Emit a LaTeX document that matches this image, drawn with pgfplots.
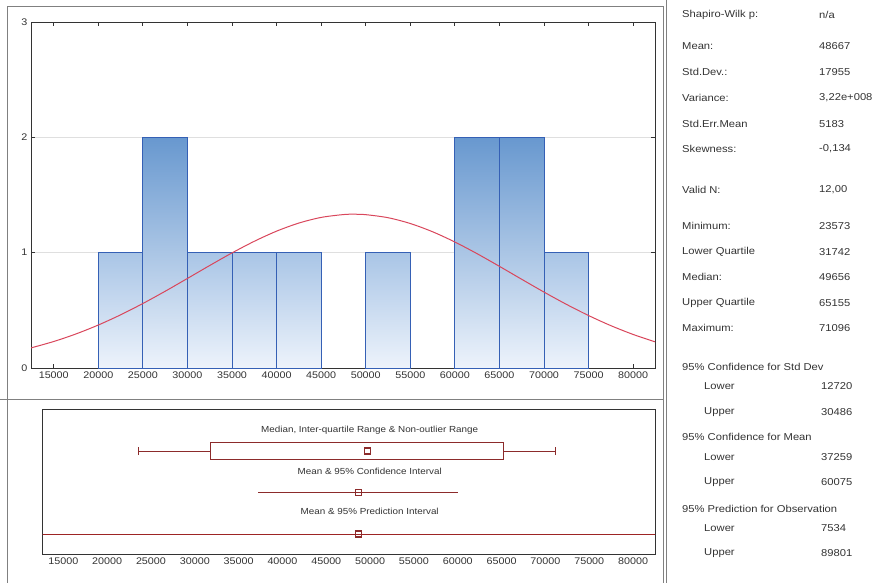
\documentclass[border=0pt]{standalone}
\usepackage{pgfplots}
\pgfplotsset{compat=1.18}
\usepackage{fontspec}
\setmainfont{Liberation Sans}[FakeStretch=1.12]
\definecolor{txt}{HTML}{333333}
\definecolor{frame}{HTML}{808080}
\definecolor{barline}{HTML}{3560B5}
\definecolor{bartop}{HTML}{6898CF}
\definecolor{barmid}{HTML}{A9C5E6}
\definecolor{barbot}{HTML}{EDF3FB}
\definecolor{curve}{HTML}{D9475C}
\definecolor{boxred}{HTML}{8C2B2B}
\begin{document}
\begin{tikzpicture}[font=\fontsize{10}{12}\selectfont, text=txt]
\useasboundingbox (0pt,0pt) rectangle (874pt,582pt);
% frames
\draw[frame, line width=1pt] (7pt,575pt) -- (663pt,575pt) -- (663pt,-5pt);
\draw[frame, line width=1pt] (7pt,575pt) -- (7pt,-5pt);
\draw[frame, line width=1pt] (0pt,183pt) -- (663pt,183pt);
\draw[frame, line width=1pt] (666.5pt,590pt) -- (666.5pt,-5pt);

% histogram
\begin{axis}[at={(31pt,214pt)}, anchor=south west, scale only axis,
  width=624pt, height=346pt,
  xmin=12450, xmax=82450, ymin=0, ymax=3,
  xtick={15000,20000,...,80000}, ytick={0,1,2,3},
  scaled ticks=false,
  tick align=inside, major tick length=4pt,
  ymajorgrids, grid style={gray!25, line width=0.6pt},
  axis line style={black!80, line width=0.9pt},
  tick style={black!80, line width=0.8pt},
  ticklabel style={font=\fontsize{9.6}{10}\selectfont, text=txt},
  /pgf/number format/assume math mode=true,
  /pgf/number format/1000 sep={},
  clip=true]
\addplot[ybar, bar width=5000, bar shift=0pt, draw=barline, line width=0.9pt,
  top color=barmid, bottom color=barbot]
  coordinates {(22500,1) (32500,1) (37500,1) (42500,1) (52500,1) (72500,1)};
\addplot[ybar, bar width=5000, bar shift=0pt, draw=barline, line width=0.9pt,
  top color=bartop, bottom color=barbot]
  coordinates {(27500,2) (62500,2) (67500,2)};
\addplot[smooth, curve, line width=1pt] coordinates {
(12000,0.1657) (12500,0.1753) (15000,0.2298) (17500,0.2955) (20000,0.3727)
(22500,0.4610) (25000,0.5593) (27500,0.6654) (30000,0.7766) (32500,0.8889)
(35000,0.9979) (37500,1.0987) (40000,1.1866) (42500,1.2568) (45000,1.3057)
(47500,1.3304) (48667,1.3332) (50000,1.3295) (52500,1.3032) (55000,1.2528)
(57500,1.1813) (60000,1.0924) (62500,0.9909) (65000,0.8815) (67500,0.7691)
(70000,0.6582) (72500,0.5525) (75000,0.4548) (77500,0.3672) (80000,0.2908)
(82500,0.2259) (83000,0.2143)};
\end{axis}

% box plot panel
\begin{axis}[at={(42.7pt,28pt)}, anchor=south west, scale only axis,
  width=612.3pt, height=145pt,
  xmin=12650, xmax=82500, ymin=0, ymax=145,
  xtick={15000,20000,...,80000}, ytick=\empty,
  scaled ticks=false,
  major tick length=0pt,
  axis line style={black!80, line width=0.9pt},
  ticklabel style={font=\fontsize{9.6}{10}\selectfont, text=txt},
  /pgf/number format/assume math mode=true,
  /pgf/number format/1000 sep={},
  clip=true]
% whiskers
\addplot[boxred, line width=0.9pt] coordinates {(23573,103) (31742,103)};
\addplot[boxred, line width=0.9pt] coordinates {(65155,103) (71096,103)};
\addplot[boxred, line width=0.9pt] coordinates {(23573,99) (23573,107)};
\addplot[boxred, line width=0.9pt] coordinates {(71096,99) (71096,107)};
% box
\addplot[boxred, line width=0.9pt, fill=white] coordinates {(31742,94.7) (65155,94.7) (65155,111.3) (31742,111.3) (31742,94.7)};
\addplot[only marks, mark=square, mark size=3pt, mark options={boxred, line width=1.1pt, fill=white}] coordinates {(49656,103)};
% mean & CI
\addplot[boxred, line width=0.9pt] coordinates {(37259,61.3) (60075,61.3)};
\addplot[only marks, mark=square, mark size=3pt, mark options={boxred, line width=1.1pt, fill=white}] coordinates {(48667,61.3)};
% mean & PI
\addplot[boxred!85!red, line width=0.9pt] coordinates {(7534,20) (89801,20)};
\addplot[only marks, mark=square, mark size=3pt, mark options={boxred, line width=1.1pt, fill=white}] coordinates {(48667,20)};
\node[font=\fontsize{8.8}{10}\selectfont, text=txt] at (axis cs:49950,124) {Median, Inter-quartile Range \& Non-outlier Range};
\node[font=\fontsize{8.8}{10}\selectfont, text=txt] at (axis cs:49950,82.3) {Mean \& 95\% Confidence Interval};
\node[font=\fontsize{8.8}{10}\selectfont, text=txt] at (axis cs:49950,42.3) {Mean \& 95\% Prediction Interval};
\end{axis}

% statistics panel
\begin{scope}[every node/.style={anchor=west, inner sep=0pt, text=txt}]
\node at (682pt,567pt) {Shapiro-Wilk p:};  \node at (819pt,567pt) {n/a};
\node at (682pt,536pt) {Mean:};            \node at (819pt,536pt) {48667};
\node at (682pt,510pt) {Std.Dev.:};        \node at (819pt,510pt) {17955};
\node at (682pt,484pt) {Variance:};        \node at (819pt,484pt) {3,22e+008};
\node at (682pt,458pt) {Std.Err.Mean};     \node at (819pt,458pt) {5183};
\node at (682pt,433pt) {Skewness:};        \node at (819pt,433pt) {-0,134};
\node at (682pt,392pt) {Valid N:};         \node at (819pt,392pt) {12,00};
\node at (682pt,356pt) {Minimum:};         \node at (819pt,356pt) {23573};
\node at (682pt,330pt) {Lower Quartile};   \node at (819pt,330pt) {31742};
\node at (682pt,305pt) {Median:};          \node at (819pt,305pt) {49656};
\node at (682pt,279pt) {Upper Quartile};   \node at (819pt,279pt) {65155};
\node at (682pt,254pt) {Maximum:};         \node at (819pt,254pt) {71096};
\node at (682pt,215pt) {95\% Confidence for Std Dev};
\node at (704pt,196pt) {Lower};            \node at (821pt,196pt) {12720};
\node at (704pt,170pt) {Upper};            \node at (821pt,170pt) {30486};
\node at (682pt,145pt) {95\% Confidence for Mean};
\node at (704pt,125pt) {Lower};            \node at (821pt,125pt) {37259};
\node at (704pt,100pt) {Upper};            \node at (821pt,100pt) {60075};
\node at (682pt,73pt) {95\% Prediction for Observation};
\node at (704pt,54pt) {Lower};             \node at (821pt,54pt) {7534};
\node at (704pt,29pt) {Upper};             \node at (821pt,29pt) {89801};
\end{scope}
\end{tikzpicture}
\end{document}
